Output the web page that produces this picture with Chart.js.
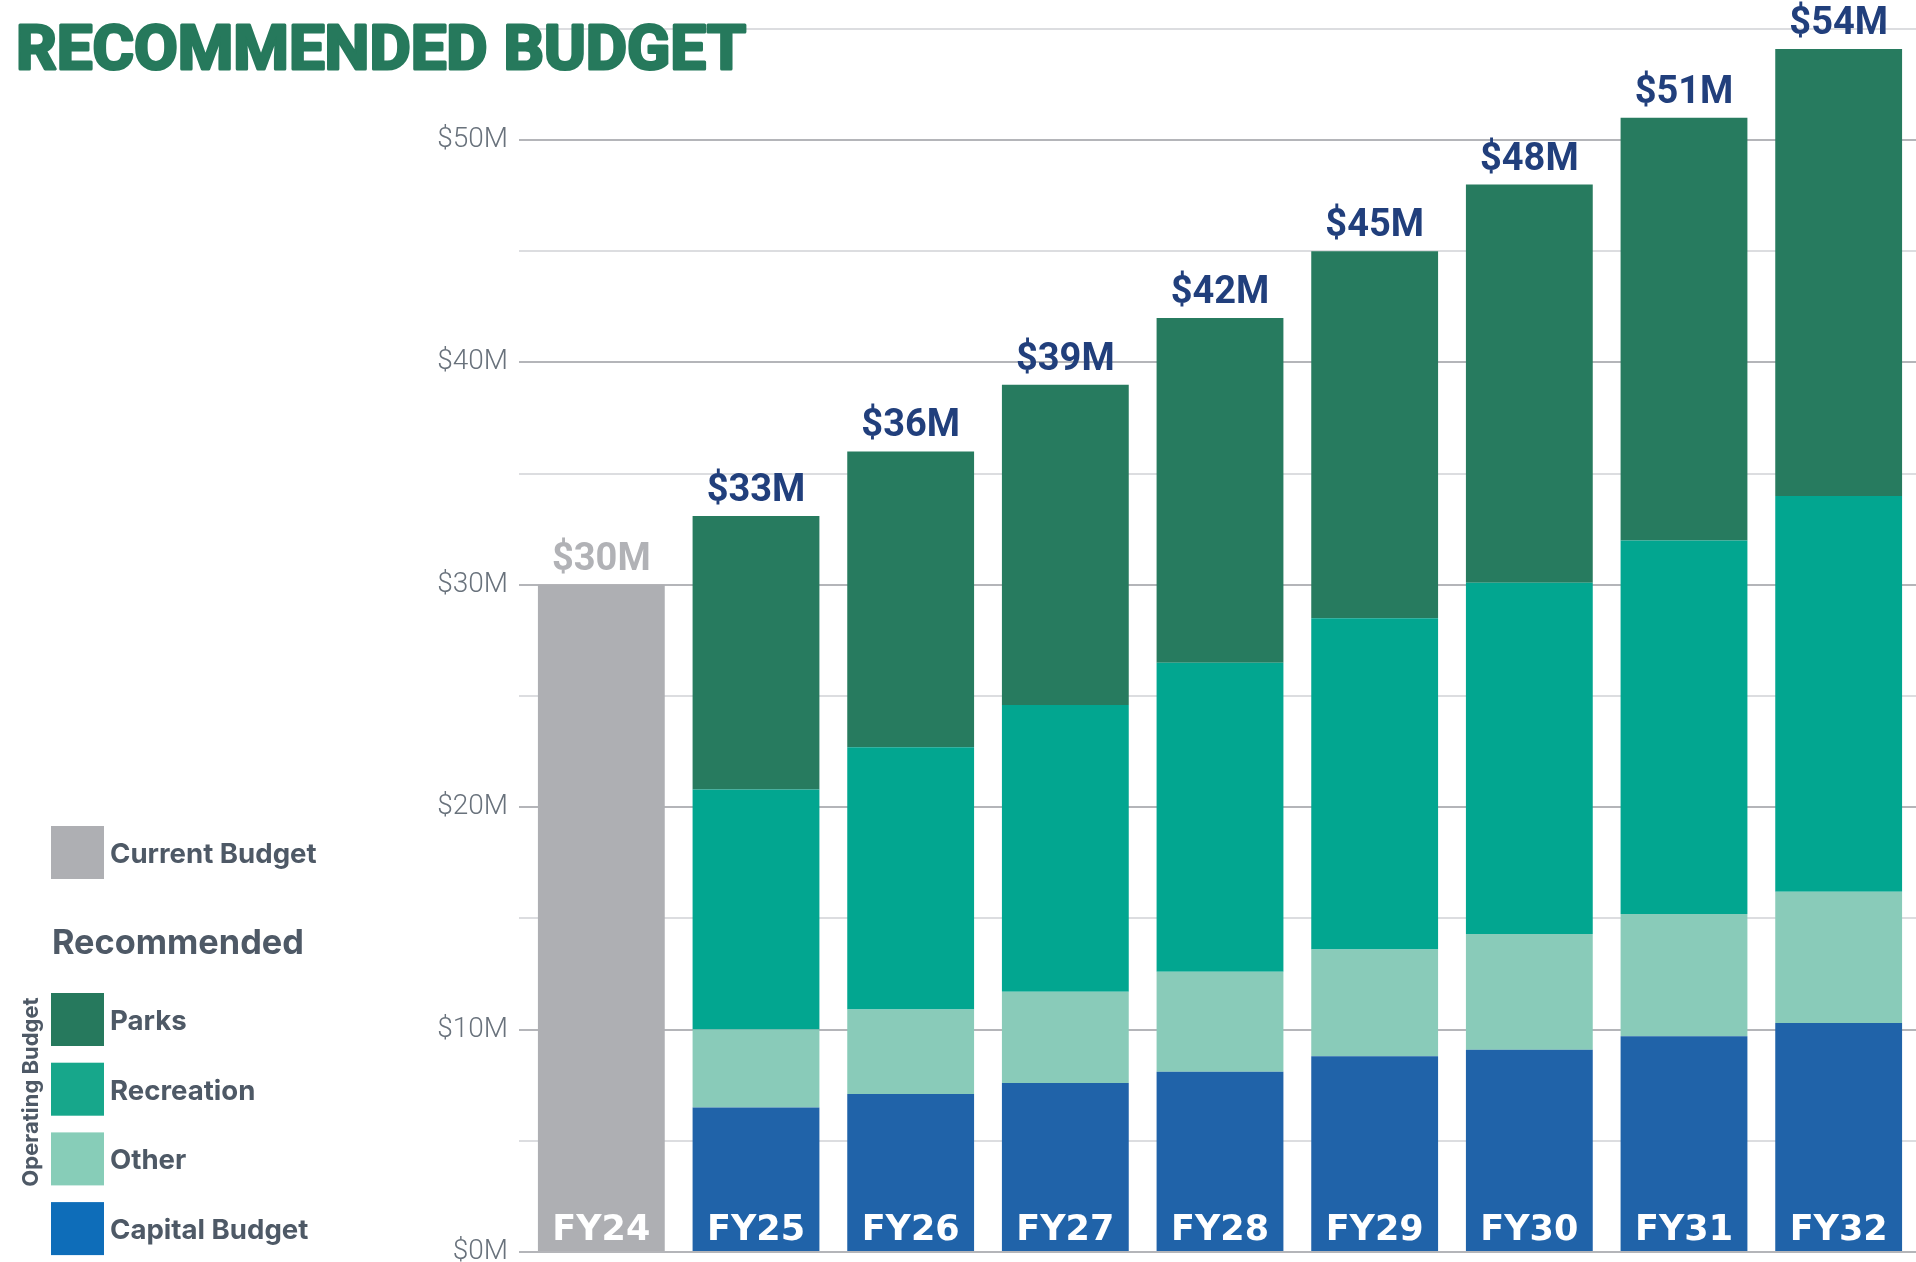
<!DOCTYPE html>
<html>
<head>
<meta charset="utf-8">
<title>Recommended Budget</title>
<script src="https://cdn.jsdelivr.net/npm/chart.js@4.4.1/dist/chart.umd.min.js"></script>
<style>
  html, body { margin: 0; padding: 0; background: #ffffff; overflow: hidden; }
  canvas { display: block; }
</style>
</head>
<body>
<canvas id="budget" width="1916" height="1262"></canvas>
<script>
// Fiscal years shown along the bottom
const categories = ['FY24', 'FY25', 'FY26', 'FY27', 'FY28', 'FY29', 'FY30', 'FY31', 'FY32'];

// Budget amounts in millions of dollars
const currentBudget = [30, null, null, null, null, null, null, null, null];
const capitalBudget = [null, 6.5, 7.1, 7.6, 8.1, 8.8, 9.1, 9.7, 10.3];
const otherOps      = [null, 3.5, 3.8, 4.1, 4.5, 4.8, 5.2, 5.5, 5.9];
const recreationOps = [null, 10.8, 11.8, 12.9, 13.9, 14.9, 15.8, 16.8, 17.8];
const parksOps      = [null, 12.3, 13.3, 14.4, 15.5, 16.5, 17.9, 19.0, 20.1];

// Value axis ticks ($5M steps, labels every $10M)
const yTickStep = 5;
const yLabelStep = 10;
const yMax = 56.3;

const COLORS = {
  current: '#aeafb3',
  capital: '#2063a9',
  other: '#89cbb9',
  recreation: '#02a690',
  parks: '#277b5f',
  title: '#26795c',
  legendText: '#4e5966',
  total: '#213f7c',
  totalCurrent: '#b1b2b6',
  tick: '#69727c',
  gridMajor: '#b4b5b9',
  gridMinor: '#dcdde0'
};

// Legend swatches are slightly brighter than the bars
const legendItems = [
  { label: 'Parks', color: '#26795d' },
  { label: 'Recreation', color: '#17a78b' },
  { label: 'Other', color: '#87cdb8' },
  { label: 'Capital Budget', color: '#0e6db9' }
];

const annotations = {
  id: 'annotations',
  afterDatasetsDraw(chart) {
    const ctx = chart.ctx;
    const yScale = chart.scales.y;
    const metas = chart.data.datasets.map((d, i) => chart.getDatasetMeta(i));
    ctx.save();
    categories.forEach((cat, i) => {
      let total = 0, topY = Infinity, x = null;
      chart.data.datasets.forEach((ds, di) => {
        const v = ds.data[i];
        if (v === null || v === undefined) return;
        total += v;
        const el = metas[di].data[i];
        topY = Math.min(topY, el.y);
        x = el.x;
      });
      if (x === null) return;
      // total above the stack
      ctx.font = '700 38px Roboto, "Liberation Sans", sans-serif';
      ctx.textAlign = 'center';
      ctx.textBaseline = 'alphabetic';
      ctx.fillStyle = i === 0 ? COLORS.totalCurrent : COLORS.total;
      ctx.fillText('$' + Math.round(total) + 'M', x, topY - 15);
      // fiscal year inside the bar foot
      ctx.font = '700 35px "DejaVu Sans", sans-serif';
      ctx.fillStyle = '#ffffff';
      ctx.fillText(cat, x, yScale.getPixelForValue(0) - 12);
    });
    ctx.restore();
  },
  afterDraw(chart) {
    const ctx = chart.ctx;
    ctx.save();
    // Heavy title, fitted to its column width
    const title = 'RECOMMENDED BUDGET';
    ctx.font = '700 62px Roboto, "Liberation Sans", sans-serif';
    ctx.fillStyle = COLORS.title;
    ctx.strokeStyle = COLORS.title;
    ctx.lineWidth = 3;
    ctx.lineJoin = 'round';
    ctx.textAlign = 'left';
    ctx.textBaseline = 'alphabetic';
    const tw = ctx.measureText(title).width;
    ctx.save();
    ctx.translate(16, 69);
    ctx.scale(730 / tw, 1);
    ctx.strokeText(title, 0, 0);
    ctx.fillText(title, 0, 0);
    ctx.restore();

    // Legend
    const sw = 53;
    ctx.fillStyle = COLORS.current;
    ctx.fillRect(51, 826, sw, sw);
    ctx.font = '700 27.6px Inter, "Noto Sans", sans-serif';
    ctx.fillStyle = COLORS.legendText;
    ctx.fillText('Current Budget', 110, 863);

    ctx.font = '700 34.3px Inter, "Noto Sans", sans-serif';
    ctx.fillText('Recommended', 52, 954);

    legendItems.forEach((item, k) => {
      const top = 993 + k * 69.7;
      ctx.fillStyle = item.color;
      ctx.fillRect(51, top, sw, sw);
      ctx.fillStyle = COLORS.legendText;
      ctx.font = '700 27.6px Inter, "Noto Sans", sans-serif';
      ctx.fillText(item.label, 110, top + 37);
    });

    // Bracket label for the operating budget group
    ctx.save();
    ctx.translate(31, 1092);
    ctx.rotate(-Math.PI / 2);
    ctx.font = '700 22px Inter, "Noto Sans", sans-serif';
    ctx.textAlign = 'center';
    ctx.textBaseline = 'middle';
    ctx.fillStyle = COLORS.legendText;
    ctx.fillText('Operating Budget', 0, 0);
    ctx.restore();

    ctx.restore();
  }
};

function build() {
  const ctx = document.getElementById('budget').getContext('2d');
  new Chart(ctx, {
    type: 'bar',
    data: {
      labels: categories,
      datasets: [
        { label: 'Current Budget', data: currentBudget, backgroundColor: COLORS.current },
        { label: 'Capital Budget', data: capitalBudget, backgroundColor: COLORS.capital },
        { label: 'Other', data: otherOps, backgroundColor: COLORS.other },
        { label: 'Recreation', data: recreationOps, backgroundColor: COLORS.recreation },
        { label: 'Parks', data: parksOps, backgroundColor: COLORS.parks }
      ].map(d => Object.assign(d, {
        stack: 'budget',
        borderWidth: 0,
        barPercentage: 0.82,
        categoryPercentage: 1
      }))
    },
    options: {
      responsive: false,
      devicePixelRatio: 1,
      animation: false,
      layout: { padding: { top: 0, right: 0, bottom: 10, left: 0 } },
      plugins: { legend: { display: false }, tooltip: { enabled: false } },
      scales: {
        x: { stacked: true, display: false },
        y: {
          stacked: true,
          min: 0,
          max: yMax,
          border: { display: false },
          grid: {
            lineWidth: 2,
            tickLength: 5,
            color: c => (c.tick && c.tick.value % yLabelStep === 0) ? COLORS.gridMajor : COLORS.gridMinor
          },
          ticks: {
            stepSize: yTickStep,
            includeBounds: false,
            padding: 11,
            color: COLORS.tick,
            font: { family: 'Roboto, "Liberation Sans", sans-serif', weight: '300', size: 28 },
            callback: v => (v % yLabelStep === 0) ? '$' + v + 'M' : ''
          },
          afterFit(scale) {
            scale.width = 524;
            scale.paddingTop = 0;
            scale.paddingBottom = 0;
          }
        }
      }
    },
    plugins: [annotations]
  });
}

const fontLoads = [
  '700 62px Roboto', '700 38px Roboto', '300 28px Roboto', '700 26px Inter', '700 35px "DejaVu Sans"'
].map(f => document.fonts.load(f).catch(() => null));
Promise.all(fontLoads).then(build, build);
</script>
</body>
</html>
